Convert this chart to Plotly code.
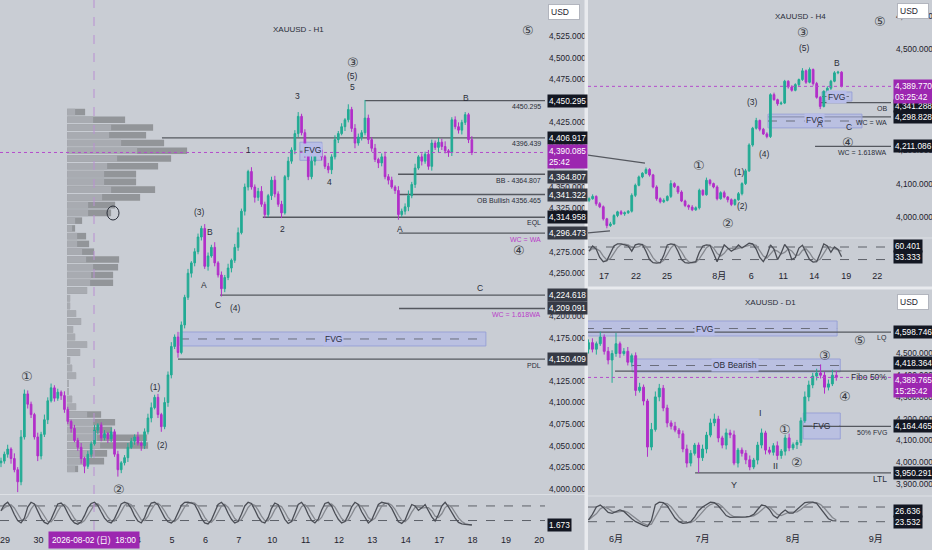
import plotly.graph_objects as go

W, H = 932, 550
BG = "#c9cdd4"
UP = "#22ab94"
DOWN = "#b22fc9"
PURPLE = "#9c27b0"
INK = "#1e222d"
TXT = "#2a2e39"
MAG = "#b93cc9"
NARROW = "Liberation Sans, Noto Sans CJK JP, sans-serif"
PLAIN = "Liberation Sans, Noto Sans CJK JP, sans-serif"

# ---------------- XAUUSD H1 ----------------
h1_open0 = 4030
h1_close = [4032, 4040, 4046, 4035, 4022, 4008, 4060, 4110, 4098, 4086,
            4060, 4038, 4063, 4080, 4102, 4117, 4105, 4112, 4108, 4092,
            4078, 4070, 4056, 4048, 4035, 4026, 4040, 4052, 4068, 4074,
            4059, 4064, 4058, 4066, 4040, 4022, 4030, 4036, 4048, 4055,
            4060, 4053, 4050, 4066, 4082, 4094, 4106, 4086, 4072, 4100,
            4132, 4165, 4176, 4158, 4190, 4222, 4250, 4262, 4275, 4292,
            4302, 4258, 4270, 4280, 4262, 4248, 4232, 4245, 4256, 4265,
            4280, 4297, 4322, 4350, 4368, 4350, 4338, 4345, 4330, 4318,
            4340, 4358, 4342, 4330, 4320, 4362, 4380, 4393, 4412, 4432,
            4413, 4390, 4362, 4380, 4388, 4393, 4385, 4374, 4370, 4385,
            4405, 4412, 4420, 4428, 4440, 4418, 4401, 4408, 4413, 4430,
            4405, 4395, 4382, 4378, 4385, 4362, 4358, 4350, 4346, 4318,
            4322, 4327, 4340, 4353, 4372, 4385, 4380, 4388, 4374, 4401,
            4396, 4402, 4397, 4392, 4390, 4428, 4420, 4416, 4425, 4434,
            4405, 4390.085]
h1_wick_up = [4, 3, 5, 2, 6, 3, 8, 5, 4, 3,
              2, 5, 3, 6, 4, 5, 3, 4, 2, 5,
              3, 2, 4, 3, 5, 2, 4, 3, 6, 2,
              3, 4, 2, 5, 3, 4, 2, 3, 5, 4,
              3, 6, 2, 4, 5, 6, 3, 4, 2, 6,
              4, 5, 3, 6, 4, 3, 5, 2, 4, 4,
              3, 5, 4, 3, 6, 2, 4, 3, 5, 2,
              4, 6, 3, 4, 2, 5, 3, 4, 6, 3,
              2, 4, 5, 3, 4, 2, 5, 3, 4, 5,
              3, 4, 2, 6, 3, 4, 5, 2, 4, 3,
              5, 3, 4, 2, 6, 3, 5, 4, 3, 21,
              4, 3, 5, 2, 4, 6, 3, 4, 2, 5,
              3, 4, 6, 3, 5, 2, 4, 3, 5, 4,
              3, 5, 4, 6, 2, 3, 4, 5, 3, 3,
              2, 4]
h1_wick_dn = [5, 3, 4, 6, 3, 12, 4, 3, 5, 4,
              3, 6, 4, 3, 5, 2, 4, 3, 5, 4,
              3, 5, 2, 4, 6, 8, 3, 4, 2, 5,
              4, 3, 5, 4, 3, 8, 4, 3, 5, 2,
              4, 3, 6, 4, 3, 5, 2, 4, 6, 3,
              5, 4, 3, 6, 2, 4, 3, 5, 4, 3,
              4, 3, 5, 2, 4, 3, 9, 4, 3, 5,
              3, 4, 2, 5, 4, 3, 6, 4, 3, 4,
              3, 5, 4, 3, 6, 2, 4, 3, 5, 4,
              3, 6, 4, 3, 5, 2, 4, 3, 4, 5,
              3, 4, 2, 5, 3, 4, 6, 3, 4, 3,
              5, 4, 3, 6, 4, 3, 5, 2, 4, 6,
              3, 4, 5, 3, 4, 2, 5, 3, 4, 5,
              3, 6, 4, 3, 5, 4, 3, 4, 5, 3,
              4, 3]
h1_stoch = [60, 85, 95, 75, 45, 20, 10, 30, 75, 95,
            88, 60, 30, 12, 6, 25, 60, 88, 92, 78,
            50, 25, 10, 5, 15, 40, 72, 90, 95, 82,
            55, 30, 15, 10, 28, 62, 88, 95, 90, 70,
            40, 18, 10, 32, 68, 92, 95, 85, 58, 32,
            15, 10, 22, 52, 82, 95, 96, 92, 86, 60,
            30, 10, 6, 22, 56, 86, 95, 80, 50, 25,
            10, 16, 46, 80, 95, 90, 64, 35, 15, 10,
            32, 70, 92, 85, 55, 25, 8, 16, 50, 86,
            95, 76, 45, 20, 10, 26, 62, 90, 95, 80,
            50, 25, 10, 16, 42, 76, 95, 86, 56, 30,
            10, 22, 56, 86, 95, 92, 88, 70, 40, 15,
            8, 22, 56, 86, 80, 62, 72, 86, 60, 35,
            18, 45, 80, 95, 76, 50, 30, 12, 6, 4,
            3, 1.673]
h1_days = ["29", "30", "31", "3", "4", "5", "6", "7", "10", "11", "12", "13", "14", "17", "18", "19", "20"]
h1_hidden_days = ["31", "3"]  # sit under the crosshair date label

h1_levels = [4450.295, 4406.917, 4364.807, 4341.322, 4314.958, 4296.473, 4224.618, 4209.091, 4150.409]
h1_level_from = [10.78, 4.70, 11.77, 11.77, 7.72, 11.80, 6.44, 11.80, 5.18]
h1_level_tags = ["4450.295", "4396.439", "BB - 4364.807", "OB Bullish 4356.465", "EQL", "WC = WA", "",
                 "WC = 1.618WA", "PDL"]
h1_fvg = [4165.6, 4181.8]
h1_fvg_small = [4381, 4402]

# volume profile rows (price, total volume, lighter part)
vp_price = [4437, 4428, 4419, 4410, 4401, 4392, 4383, 4374, 4365, 4356, 4347, 4338, 4329, 4320, 4311, 4302,
            4293, 4284, 4275, 4266, 4257, 4248, 4239, 4230, 4221, 4212, 4203, 4194, 4185, 4176, 4167, 4158,
            4149, 4140, 4131, 4122, 4113, 4104, 4095, 4086, 4077, 4068, 4059, 4050, 4041, 4032, 4023]
vp_total = [18, 58, 86, 79, 97, 120, 104, 91, 69, 69, 88, 73, 48, 44, 15, 8,
            19, 22, 27, 52, 51, 46, 46, 20, 3, 3, 9, 14, 6, 8, 20, 13,
            3, 5, 9, 1, 1, 5, 9, 34, 48, 45, 80, 81, 40, 37, 11]
vp_light = [8, 26, 44, 42, 54, 70, 50, 40, 37, 37, 44, 35, 21, 21, 8, 5,
            10, 10, 15, 19, 26, 24, 23, 20, 3, 3, 9, 14, 6, 8, 20, 13,
            3, 5, 9, 1, 1, 5, 9, 20, 26, 26, 30, 33, 23, 21, 8]

# ---------------- XAUUSD H4 ----------------
h4_open0 = 4050
h4_close = [4055, 4062, 4040, 4031, 3995, 3975, 3980, 4005, 4016, 4010,
            4013, 4018, 4065, 4095, 4120, 4131, 4142, 4126, 4090, 4055,
            4046, 4050, 4062, 4100, 4091, 4075, 4048, 4035, 4030, 4022,
            4028, 4080, 4067, 4110, 4100, 4090, 4055, 4073, 4060, 4052,
            4038, 4052, 4070, 4100, 4138, 4215, 4265, 4288, 4262, 4248,
            4240, 4365, 4350, 4338, 4340, 4405, 4388, 4378, 4395, 4410,
            4436, 4402, 4440, 4398, 4357, 4330, 4375, 4384, 4405, 4430,
            4432, 4389.77]
h4_wick_up = [4, 6, 3, 5, 4, 3, 6, 4, 3, 5,
              4, 3, 6, 5, 4, 3, 6, 4, 3, 5,
              4, 6, 3, 10, 4, 3, 5, 4, 3, 6,
              4, 5, 3, 8, 4, 3, 5, 4, 6, 3,
              4, 3, 5, 4, 6, 5, 4, 8, 3, 4,
              5, 4, 6, 3, 5, 4, 3, 5, 4, 3,
              8, 4, 6, 3, 5, 4, 3, 6, 4, 5,
              4, 3]
h4_wick_dn = [5, 3, 6, 4, 5, 8, 4, 3, 5, 4,
              6, 3, 4, 5, 3, 4, 3, 5, 4, 6,
              5, 4, 3, 5, 4, 6, 3, 5, 8, 4,
              3, 5, 4, 3, 6, 4, 5, 3, 4, 8,
              5, 4, 3, 5, 4, 3, 5, 4, 6, 3,
              5, 4, 3, 6, 4, 3, 5, 4, 3, 6,
              4, 5, 3, 6, 4, 8, 3, 4, 5, 3,
              4, 3]
h4_stoch = [60, 85, 70, 30, 10, 15, 50, 85, 95, 95,
            90, 85, 60, 90, 95, 92, 60, 20, 5, 3,
            5, 40, 90, 95, 92, 60, 20, 5, 3, 5,
            10, 55, 85, 90, 88, 50, 10, 50, 90, 75,
            60, 70, 90, 75, 85, 98, 95, 70, 30, 10,
            40, 90, 70, 20, 50, 92, 70, 20, 30, 75,
            88, 50, 20, 8, 10, 50, 95, 85, 55, 80,
            67.87, 33.333]
h4_days = ["17", "22", "25", "8月", "6", "11", "14", "19", "22"]
h4_day_pos = [0, 3, 5.9, 10.8, 13.8, 16.8, 19.7, 22.7, 25.6]
h4_levels = [4341.288, 4298.828, 4211.086]
h4_level_from = [20.24, 15.37, 19.78]
h4_level_tags = ["OB", "WC = WA", "WC = 1.618WA"]

# ---------------- XAUUSD D1 ----------------
d1_open0 = 4520
d1_close = [4550, 4520, 4545, 4576, 4510, 4470, 4500, 4545, 4500, 4510,
            4460, 4490, 4330, 4345, 4281, 4069, 4150, 4300, 4340, 4249,
            4180, 4165, 4147, 4130, 4060, 3995, 4040, 4078, 4020, 4060,
            4124, 4180, 4198, 4111, 4078, 4134, 4125, 3995, 4055, 4040,
            4010, 3977, 4009, 4078, 4134, 4055, 4045, 4075, 4030, 4050,
            4111, 4065, 4080, 4090, 4190, 4300, 4355, 4396, 4410, 4400,
            4345, 4360, 4400, 4389.765]
d1_wick_up = [15, 20, 10, 25, 12, 20, 15, 50, 10, 15,
              20, 10, 15, 20, 12, 10, 30, 25, 20, 15,
              15, 12, 20, 10, 15, 20, 15, 10, 12, 20,
              15, 20, 25, 15, 10, 20, 15, 20, 10, 12,
              15, 20, 10, 15, 20, 10, 15, 12, 20, 10,
              15, 20, 10, 12, 15, 25, 20, 15, 20, 40,
              15, 20, 25, 20]
d1_wick_dn = [20, 15, 25, 10, 15, 20, 105, 15, 20, 10,
              15, 20, 25, 10, 20, 45, 15, 10, 20, 15,
              20, 15, 10, 20, 15, 20, 15, 10, 70, 15,
              20, 10, 15, 20, 15, 20, 15, 10, 20, 15,
              20, 15, 10, 20, 15, 20, 10, 15, 20, 15,
              20, 15, 10, 20, 15, 10, 20, 15, 20, 15,
              30, 15, 10, 15]
d1_stoch = [27, 50, 80, 88, 75, 58, 54, 62, 68, 62,
            45, 32, 20, 12, 5, 0, 25, 90, 100, 98,
            85, 60, 35, 20, 13, 15, 20, 40, 65, 80,
            90, 100, 98, 85, 65, 45, 38, 38, 38, 38,
            40, 42, 50, 70, 88, 85, 70, 45, 35, 55,
            68, 55, 55, 70, 85, 98, 100, 100, 95, 75,
            55, 32, 24.376, 23.532]
d1_months = ["6月", "7月", "8月", "9月"]
d1_month_pos = [0, 22, 45, 66]
d1_levels = [4598.746, 4418.364, 4164.465, 3950.291]
d1_level_from = [-7.12, -0.25, 47.6, 20.1]
d1_level_tags = ["LQ", "Fibo 50%", "50% FVG", "LTL"]


def candles(open0, close, up, dn):
    opens = [open0] + close[:-1]
    highs = [max(o, c) + u for o, c, u in zip(opens, close, up)]
    lows = [min(o, c) - d for o, c, d in zip(opens, close, dn)]
    return opens, highs, lows


def smooth(k):
    out = []
    for i in range(len(k)):
        win = k[max(0, i - 2):i + 1]
        out.append(sum(win) / len(win))
    return out


def py(y):
    return 1 - y / H


fig = go.Figure()

# volume profile sits under the H1 candles
VP_BASE, VP_UNIT = 1.86, 1 / 33.4
fig.add_bar(orientation="h", y=vp_price, x=[v * VP_UNIT for v in vp_total], base=VP_BASE, width=7.6,
            marker=dict(color="#929599", line_width=0), xaxis="x", yaxis="y", hoverinfo="skip")
fig.add_bar(orientation="h", y=vp_price, x=[v * VP_UNIT for v in vp_light], base=VP_BASE, width=7.6,
            marker=dict(color="#a8abb1", line_width=0), xaxis="x", yaxis="y", hoverinfo="skip")


def add_candles(x, open0, close, up, dn, xa, ya):
    o, hi, lo = candles(open0, close, up, dn)
    fig.add_candlestick(x=x, open=o, high=hi, low=lo, close=close, xaxis=xa, yaxis=ya,
                        increasing=dict(line=dict(color=UP, width=1), fillcolor=UP),
                        decreasing=dict(line=dict(color=DOWN, width=1), fillcolor=DOWN),
                        whiskerwidth=0, hoverinfo="skip")


def add_stoch(x, k, xa, ya):
    fig.add_scatter(x=x, y=smooth(k), mode="lines", line=dict(color="#85888f", width=1.3),
                    xaxis=xa, yaxis=ya, hoverinfo="skip")
    fig.add_scatter(x=x, y=k, mode="lines", line=dict(color="#4b4e56", width=1.3),
                    xaxis=xa, yaxis=ya, hoverinfo="skip")


h1_x = [-0.12 + 0.1 * i for i in range(len(h1_close))]
h4_x = [-1.4 + i / 3 for i in range(len(h4_close))]
d1_x = [-7 + i for i in range(len(d1_close))]

add_candles(h1_x, h1_open0, h1_close, h1_wick_up, h1_wick_dn, "x", "y")
add_stoch(h1_x, h1_stoch, "x2", "y2")
add_candles(h4_x, h4_open0, h4_close, h4_wick_up, h4_wick_dn, "x3", "y3")
add_stoch(h4_x, h4_stoch, "x4", "y4")
add_candles(d1_x, d1_open0, d1_close, d1_wick_up, d1_wick_dn, "x5", "y5")
add_stoch(d1_x, d1_stoch, "x6", "y6")

# ---------------- axes ----------------
base = dict(showgrid=False, zeroline=False, showline=False, ticks="", automargin=False)
pfont = dict(size=8.3, color=INK, family=NARROW)
dfont = dict(size=9, color=INK, family=NARROW)
L = [0, 545 / W]
R = [588 / W, 891 / W]
R_END = 26.9
h1_ticks = [i for i, d in enumerate(h1_days) if d not in h1_hidden_days]

fig.update_layout(
    xaxis=dict(domain=L, range=[-0.15, 16.17], anchor="y", showticklabels=False,
               rangeslider=dict(visible=False), **base),
    yaxis=dict(domain=[py(493), 1], range=[3995, 4567], anchor="x", side="right",
               tickvals=list(range(4000, 4526, 25)), tickformat=",.3f", tickfont=pfont,
               ticklabelstandoff=3, **base),
    xaxis2=dict(domain=L, range=[-0.15, 16.17], anchor="y2", tickvals=h1_ticks,
                ticktext=[h1_days[i] for i in h1_ticks], tickfont=dfont, ticklabelstandoff=3, **base),
    yaxis2=dict(domain=[py(530), py(495)], range=[-19, 125], anchor="x2", showticklabels=False, **base),
    xaxis3=dict(domain=R, range=[-1.5, R_END], anchor="y3", showticklabels=False,
                rangeslider=dict(visible=False), **base),
    yaxis3=dict(domain=[py(238), 1], range=[3938, 4647], anchor="x3", side="right",
                tickvals=list(range(4000, 4601, 100)), tickformat=",.3f", tickfont=pfont,
                ticklabelstandoff=4, **base),
    xaxis4=dict(domain=R, range=[-1.5, R_END], anchor="y4", tickvals=h4_day_pos, ticktext=h4_days,
                tickfont=dfont, ticklabelstandoff=4, **base),
    yaxis4=dict(domain=[py(265), py(238)], range=[-6, 123], anchor="x4", showticklabels=False, **base),
    xaxis5=dict(domain=R, range=[-7.12, 69.9], anchor="y5", showticklabels=False,
                rangeslider=dict(visible=False), **base),
    yaxis5=dict(domain=[py(495), py(291)], range=[3848, 4788], anchor="x5", side="right",
                tickvals=list(range(3900, 4601, 100)), tickformat=",.3f", tickfont=pfont,
                ticklabelstandoff=4, **base),
    xaxis6=dict(domain=R, range=[-7.12, 69.9], anchor="y6", tickvals=d1_month_pos, ticktext=d1_months,
                tickfont=dfont, ticklabelstandoff=2, **base),
    yaxis6=dict(domain=[py(530), py(497)], range=[-14, 121], anchor="x6", showticklabels=False, **base),
)

# ---------------- drawings ----------------
shapes = []
notes = []


def hline(xref, yref, x0, x1, y, color="#55585f", width=1.3, dash="solid", layer="below"):
    shapes.append(dict(type="line", xref=xref, yref=yref, x0=x0, x1=x1, y0=y, y1=y,
                       line=dict(color=color, width=width, dash=dash), layer=layer))


def zone(xref, yref, x0, x1, lo, hi):
    shapes.append(dict(type="rect", xref=xref, yref=yref, x0=x0, x1=x1, y0=lo, y1=hi,
                       fillcolor="rgba(178,184,232,0.62)", line=dict(color="rgba(150,158,214,0.9)", width=1),
                       layer="below"))
    hline(xref, yref, x0, x1, (lo + hi) / 2, color="#6b6e7c", width=1, dash="dash")


def label(x, y, text, size=8.5, color=TXT, family=PLAIN, anchor="center", bg=None):
    d = dict(x=x / W, y=py(y), xref="paper", yref="paper", text=text, showarrow=False,
             xanchor=anchor, yanchor="middle", font=dict(size=size, color=color, family=family))
    if bg:
        d.update(bgcolor=bg, borderpad=1)
    notes.append(d)


def circ(x, y, text):
    label(x, y, text, size=13, color="#3a3d45", family="DejaVu Sans")


def tag(x, y, yref, text, bg, shift=0, anchor="middle", fg="white"):
    notes.append(dict(x=x / W, xref="paper", y=y, yref=yref, text=text, showarrow=False, xanchor="left",
                      yanchor=anchor, yshift=shift, bgcolor=bg, borderpad=1, align="left",
                      font=dict(size=8.3, color=fg, family=NARROW)))


def ptag(x, y, text, bg="#131722"):
    notes.append(dict(x=x / W, xref="paper", y=py(y), yref="paper", text=text, showarrow=False,
                      xanchor="left", yanchor="middle", bgcolor=bg, borderpad=1, align="left",
                      font=dict(size=8.3, color="white", family=NARROW)))


def usd(x, y):
    notes.append(dict(x=x / W, y=py(y), xref="paper", yref="paper", text="USD", showarrow=False,
                      xanchor="left", yanchor="top", bgcolor="#ffffff", bordercolor="#b2b5be", borderwidth=1,
                      borderpad=2, width=26, align="left", font=dict(size=8.5, color=INK, family=NARROW)))


# H1 levels
for lvl, start, txt in zip(h1_levels, h1_level_from, h1_level_tags):
    hline("x", "y", start, 16.17, lvl)
    if txt:
        notes.append(dict(x=543 / W, xref="paper", y=lvl, yref="y", yshift=-6, text=txt, showarrow=False,
                          xanchor="right", yanchor="middle",
                          font=dict(size=7, color=MAG if txt.startswith("WC") else TXT, family=NARROW)))
zone("x", "y", 5.24, 14.4, h1_fvg[0], h1_fvg[1])
zone("x", "y", 8.83, 9.49, h1_fvg_small[0], h1_fvg_small[1])
hline("x domain", "y", 0, 1, h1_close[-1], color="#b44ccc", width=1, dash="dot", layer="above")
for lv in (80, 20):
    hline("x2 domain", "y2", 0, 1, lv, color="#5d6068", width=1, dash="dash")
    hline("x4 domain", "y4", 0, 1, lv, color="#5d6068", width=1, dash="dash")
    hline("x6 domain", "y6", 0, 1, lv, color="#5d6068", width=1, dash="dash")

# H4 levels
for lvl, start, txt in zip(h4_levels, h4_level_from, h4_level_tags):
    hline("x3", "y3", start, R_END, lvl)
    notes.append(dict(x=889 / W, xref="paper", y=lvl, yref="y3", yshift=-6, text=txt, showarrow=False,
                      xanchor="right", yanchor="middle", font=dict(size=7, color=TXT, family=NARROW)))
zone("x3", "y3", 20.43, 23.24, 4346, 4373)
zone("x3", "y3", 15.37, 24.18, 4266, 4307)
shapes.append(dict(type="line", xref="x3", yref="y3", x0=-1.5, y0=4185, x1=3.84, y1=4161,
                   line=dict(color="#55585f", width=1.2)))
shapes.append(dict(type="line", xref="x3", yref="y3", x0=-1.5, y0=3953, x1=0.56, y1=3959,
                   line=dict(color="#55585f", width=1.2)))
hline("x3 domain", "y3", 0, 1, h4_close[-1], color="#b44ccc", width=1, dash="dot", layer="above")

# D1 levels
zone("x5", "y5", -7.9, 56.2, 4580.6, 4649.7)
zone("x5", "y5", 4.07, 57.0, 4414.7, 4474.6)
zone("x5", "y5", 47.6, 57.0, 4106, 4225.8)
for lvl, start, txt in zip(d1_levels, d1_level_from, d1_level_tags):
    hline("x5", "y5", start, 69.9, lvl)
    notes.append(dict(x=889 / W, xref="paper", y=lvl, yref="y5", yshift=-6, text=txt, showarrow=False,
                      xanchor="right", yanchor="middle",
                      font=dict(size=8.5 if txt in ("Fibo 50%", "LTL") else 7, color=TXT, family=NARROW)))
hline("x5 domain", "y5", 0, 1, d1_close[-1], color="#b44ccc", width=1, dash="dot", layer="above")

# crosshair, separators, marker circle
shapes.append(dict(type="line", xref="paper", yref="paper", x0=94 / W, x1=94 / W, y0=py(530), y1=1,
                   line=dict(color="#b98fd2", width=1, dash="dash"), layer="above"))
shapes.append(dict(type="circle", xref="paper", yref="paper", x0=107 / W, x1=119 / W, y0=py(220), y1=py(206),
                   line=dict(color="#2a2e39", width=1)))
shapes.append(dict(type="line", xref="paper", yref="paper", x0=0, x1=585 / W, y0=py(494.5), y1=py(494.5),
                   line=dict(color="#dde0e5", width=1)))
shapes.append(dict(type="line", xref="paper", yref="paper", x0=588 / W, x1=1, y0=py(238), y1=py(238),
                   line=dict(color="#dde0e5", width=1)))
shapes.append(dict(type="line", xref="paper", yref="paper", x0=588 / W, x1=1, y0=py(496), y1=py(496),
                   line=dict(color="#dde0e5", width=1)))
shapes.append(dict(type="rect", xref="paper", yref="paper", x0=584.5 / W, x1=588 / W, y0=0, y1=1,
                   fillcolor="#e8eaee", line_width=0, layer="above"))
shapes.append(dict(type="rect", xref="paper", yref="paper", x0=588 / W, x1=1, y0=py(289.5), y1=py(286.5),
                   fillcolor="#e8eaee", line_width=0, layer="above"))

# ---------------- texts ----------------
label(298, 29, "XAUUSD - H1", 8)
circ(528, 30, "⑤")
circ(353, 62, "③")
label(352, 76, "(5)")
label(352, 87, "5")
label(297, 96, "3")
label(466, 98, "B")
label(248, 150, "1")
label(312, 150, "FVG", 8.5, bg="rgba(184,189,232,1)")
label(329, 182, "4")
label(282, 229, "2")
label(400, 229, "A")
label(199, 212, "(3)")
label(210, 232, "B")
label(204, 285, "A")
label(218, 305, "C")
label(235, 308, "(4)")
circ(519, 250, "④")
label(480, 288, "C")
circ(27, 376, "①")
label(155, 387, "(1)")
label(162, 445, "(2)")
circ(119, 489, "②")
label(333, 339, "FVG", 8.5, bg="rgba(184,189,232,1)")

label(800, 17, "XAUUSD - H4", 8)
circ(880, 21, "⑤")
circ(803, 32, "③")
label(804, 48, "(5)")
label(837, 63, "B")
label(752, 102, "(3)")
label(836, 97, "FVG", 8.5, bg="rgba(184,189,232,1)")
label(814, 120, "FVG", 8.5, bg="rgba(184,189,232,1)")
label(820, 124, "A")
label(849, 127, "C")
circ(848, 142, "④")
label(764, 154, "(4)")
circ(699, 165, "①")
label(739, 172, "(1)")
label(742, 206, "(2)")
circ(728, 223, "②")

label(770, 302, "XAUUSD - D1", 8)
label(704, 329, "FVG", 8.5, bg="rgba(184,189,232,1)")
circ(860, 340, "⑤")
circ(825, 355, "③")
label(735, 365, "OB Bearish", 8.5, bg="rgba(184,189,232,1)")
circ(845, 396, "④")
label(760, 413, "I", 9)
label(821, 426, "FVG", 8.5)
circ(785, 429, "①")
circ(797, 462, "②")
label(775, 466, "II", 9)
label(734, 485, "Y", 9)

# price scale tags
DARK, BLACK = "#363a45", "#131722"
for lvl in h1_levels:
    tag(547, lvl, "y", f"{lvl:,.3f}", BLACK if lvl in (4450.295, 4406.917, 4314.958) else DARK,
        shift=-3 if lvl == 4364.807 else 0)
tag(547, h1_close[-1], "y", f"{h1_close[-1]:,.3f}<br>25:42", PURPLE, shift=8, anchor="top")
tag(547, h1_stoch[-1], "y2", f"{h1_stoch[-1]:.3f}", BLACK)

for lvl, sh in zip(h4_levels, (-3, 0, 0)):
    tag(893, lvl, "y3", f"{lvl:,.3f}", BLACK, shift=sh)
tag(893, h4_close[-1], "y3", f"{h4_close[-1]:,.3f}<br>03:25:42", PURPLE, shift=7, anchor="top")
ptag(893, 246, f"{smooth(h4_stoch)[-1]:.3f}")
ptag(893, 257, f"{h4_stoch[-1]:.3f}")

for lvl, sh in zip(d1_levels, (0, 8, 0, 0)):
    tag(893, lvl, "y5", f"{lvl:,.3f}", BLACK, shift=sh)
tag(893, d1_close[-1], "y5", f"{d1_close[-1]:,.3f}<br>15:25:42", PURPLE, shift=4, anchor="top")
ptag(893, 511, f"{smooth(d1_stoch)[-1]:.3f}")
ptag(893, 522, f"{d1_stoch[-1]:.3f}")

usd(548, 4)
usd(897, 3)
usd(897, 294)

notes.append(dict(x=94 / W, y=py(540), xref="paper", yref="paper", text="2026-08-02 (日)  18:00",
                  showarrow=False, xanchor="center", yanchor="middle", bgcolor=PURPLE, borderpad=3,
                  font=dict(size=8.3, color="white", family=NARROW)))

fig.update_layout(width=W, height=H, margin=dict(l=0, r=0, t=0, b=0), paper_bgcolor=BG, plot_bgcolor=BG,
                  showlegend=False, barmode="overlay", shapes=shapes, annotations=notes,
                  font=dict(family=PLAIN, color=INK))

fig.write_html("out.html", config={"displayModeBar": False},
               post_script="document.body.style.margin='0';")
